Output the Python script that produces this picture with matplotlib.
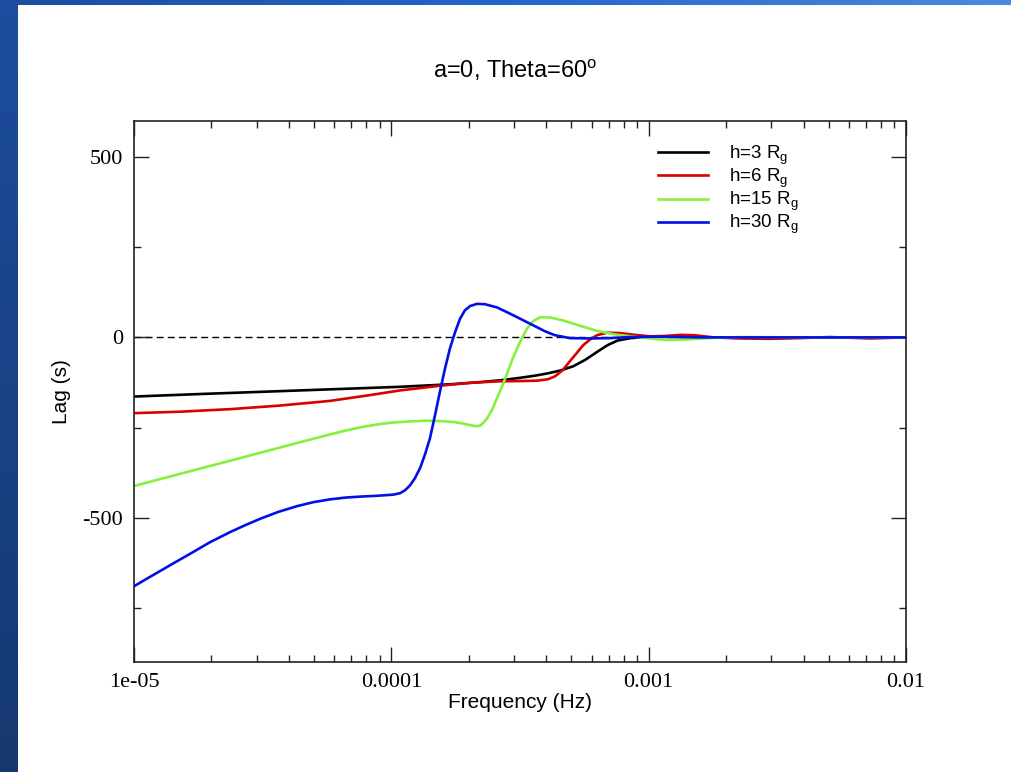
import numpy as np
import matplotlib
matplotlib.use("Agg")
import matplotlib.pyplot as plt
from matplotlib.ticker import FixedLocator, NullFormatter, MultipleLocator, LogLocator

plt.rcParams['mathtext.fontset'] = 'custom'
plt.rcParams['mathtext.rm'] = 'Liberation Sans'
plt.rcParams['mathtext.it'] = 'Liberation Sans'

# ---- data (log10 frequency in Hz, lag in s) ----
logf_h3 = [-5.000, -4.743, -4.471, -4.199, -3.966, -3.771, -3.655, -3.577, -3.499, -3.441, -3.394,
           -3.344, -3.293, -3.246, -3.200, -3.161, -3.122, -3.071, -3.013, -2.916, -2.722, -2.489, -2.217, -2.000]
lag_h3 = [-164, -157, -150, -143, -137, -130, -124, -119, -112, -106, -100,
          -92, -80, -62, -40, -22, -9, -2, 1, 2, 0, -1, 0, 0]

logf_h6 = [-5.000, -4.821, -4.627, -4.433, -4.238, -4.083, -3.966, -3.799, -3.694, -3.589, -3.500,
           -3.434, -3.391, -3.364, -3.333, -3.305, -3.278, -3.255, -3.228, -3.201, -3.162, -3.111,
           -3.053, -2.995, -2.936, -2.878, -2.820, -2.750, -2.645, -2.528, -2.412, -2.295, -2.140, -2.000]
lag_h6 = [-210, -206, -199, -189, -176, -160, -147, -133, -126, -122, -121,
          -120, -116, -108, -90, -65, -42, -22, -6, 6, 13, 12,
          7, 3, 4, 7, 6, 0, -3, -4, -2, 1, -3, 0]

logf_h15 = [-5.000, -4.899, -4.782, -4.627, -4.510, -4.367, -4.238, -4.176, -4.110, -4.052, -3.993,
            -3.927, -3.869, -3.811, -3.752, -3.714, -3.683, -3.663, -3.653, -3.640, -3.628, -3.608,
            -3.589, -3.569, -3.550, -3.530, -3.511, -3.491, -3.472, -3.449, -3.421, -3.382, -3.332,
            -3.266, -3.200, -3.130, -3.071, -2.994, -2.936, -2.858, -2.761, -2.644, -2.411, -2.000]
lag_h15 = [-412, -393, -371, -342, -320, -293, -269, -258, -248, -241, -236,
           -233, -231, -232, -235, -240, -245, -246, -244, -235, -225, -200,
           -168, -135, -100, -62, -30, 0, 25, 45, 56, 55, 47,
           32, 18, 8, 3, -3, -7, -6, -2, 1, 0, 0]

logf_h30 = [-5.000, -4.938, -4.899, -4.841, -4.782, -4.705, -4.627, -4.569, -4.510, -4.440, -4.367,
            -4.304, -4.238, -4.176, -4.110, -4.052, -3.993, -3.966, -3.947, -3.927, -3.908, -3.888,
            -3.869, -3.850, -3.830, -3.811, -3.791, -3.772, -3.752, -3.733, -3.714, -3.694, -3.667,
            -3.636, -3.589, -3.539, -3.500, -3.461, -3.403, -3.364, -3.306, -3.228, -3.150, -3.072,
            -2.956, -2.800, -2.000]
lag_h30 = [-690, -664, -648, -624, -600, -568, -540, -521, -503, -484, -468,
           -457, -449, -444, -441, -439, -436, -432, -424, -410, -390, -362,
           -324, -280, -215, -150, -85, -30, 15, 52, 75, 87, 93,
           92, 83, 66, 52, 38, 17, 6, -2, -3, -2, 1,
           2, 0, 0]

series = [
    ("h=3 R$_\\mathrm{g}$", logf_h3, lag_h3, "#000000"),
    ("h=6 R$_\\mathrm{g}$", logf_h6, lag_h6, "#d80000"),
    ("h=15 R$_\\mathrm{g}$", logf_h15, lag_h15, "#86f03c"),
    ("h=30 R$_\\mathrm{g}$", logf_h30, lag_h30, "#0010e6"),
]

title = "a=0, Theta=60$^\\mathrm{o}$"
xlabel = "Frequency (Hz)"
ylabel = "Lag (s)"
xticks = [1e-5, 1e-4, 1e-3, 1e-2]
xticklabels = ["1e-05", "0.0001", "0.001", "0.01"]
yticks = [-500, 0, 500]
yticklabels = ["-500", "0", "500"]

W, H = 1012, 772
fig = plt.figure(figsize=(W / 100, H / 100), dpi=100)

# ---- slide background (blue frame on the left and top) ----
bg = np.ones((H, W, 3))
t = np.linspace(0, 1, H)[:, None]
top_c = np.array([28, 77, 158]) / 255
bot_c = np.array([22, 56, 112]) / 255
left = top_c + (bot_c - top_c) * t
bg[:, :18, :] = left[:, None, :].repeat(18, axis=1)
s = np.linspace(0, 1, W)[:, None]
l_c = np.array([28, 77, 158]) / 255
m_c = np.array([34, 102, 204]) / 255
r_c = np.array([76, 138, 222]) / 255
topbar = np.where(s < 0.5, l_c + (m_c - l_c) * (s / 0.5), m_c + (r_c - m_c) * ((s - 0.5) / 0.5))
bg[:5, :, :] = topbar[None, :, :].repeat(5, axis=0)
axbg = fig.add_axes([0, 0, 1, 1], zorder=-10)
axbg.imshow(bg, aspect='auto', extent=[0, 1, 0, 1])
axbg.axis('off')

ax = fig.add_axes([134 / W, 1 - 662 / H, (906 - 134) / W, (662 - 121) / H])

ax.axhline(0, color='black', lw=1.0, ls=(0, (5, 3)), zorder=1)
for label, lf, lag, c in series:
    ax.plot(10 ** np.array(lf), lag, color=c, lw=1.9, label=label, zorder=2,
            solid_joinstyle='round')

ax.set_xscale('log')
ax.set_xlim(1e-5, 1e-2)
ax.set_ylim(-900, 600)

ax.xaxis.set_major_locator(FixedLocator(xticks))
ax.set_xticklabels(xticklabels)
ax.xaxis.set_minor_locator(LogLocator(base=10, subs=np.arange(2, 10)))
ax.xaxis.set_minor_formatter(NullFormatter())
ax.yaxis.set_major_locator(FixedLocator(yticks))
ax.set_yticklabels(yticklabels)
ax.yaxis.set_minor_locator(MultipleLocator(250))

ax.tick_params(which='both', direction='in', top=True, right=True, width=1.0, color='#222222')
ax.tick_params(which='major', length=11, pad=8)
ax.tick_params(which='minor', length=5)
for lbl in ax.get_xticklabels() + ax.get_yticklabels():
    lbl.set_fontfamily('Liberation Serif')
    lbl.set_fontsize(16)
for sp in ax.spines.values():
    sp.set_linewidth(1.2)
    sp.set_color('#222222')

ax.set_xlabel(xlabel, fontfamily='Liberation Sans', fontsize=15, labelpad=1)
ax.set_ylabel(ylabel, fontfamily='Liberation Sans', fontsize=15, labelpad=8)
fig.text(515 / W, 1 - 70 / H, title, ha='center', va='center', fontfamily='Liberation Sans', fontsize=17)

leg = ax.legend(loc='upper left', bbox_to_anchor=((650 - 134) / (906 - 134), 1 - (136 - 121) / (662 - 121)),
                frameon=False, prop={'family': 'Liberation Sans', 'size': 13.5},
                handlelength=2.7, handletextpad=1.1, labelspacing=0.0, borderaxespad=0)

fig.savefig("out.png", dpi=100)
